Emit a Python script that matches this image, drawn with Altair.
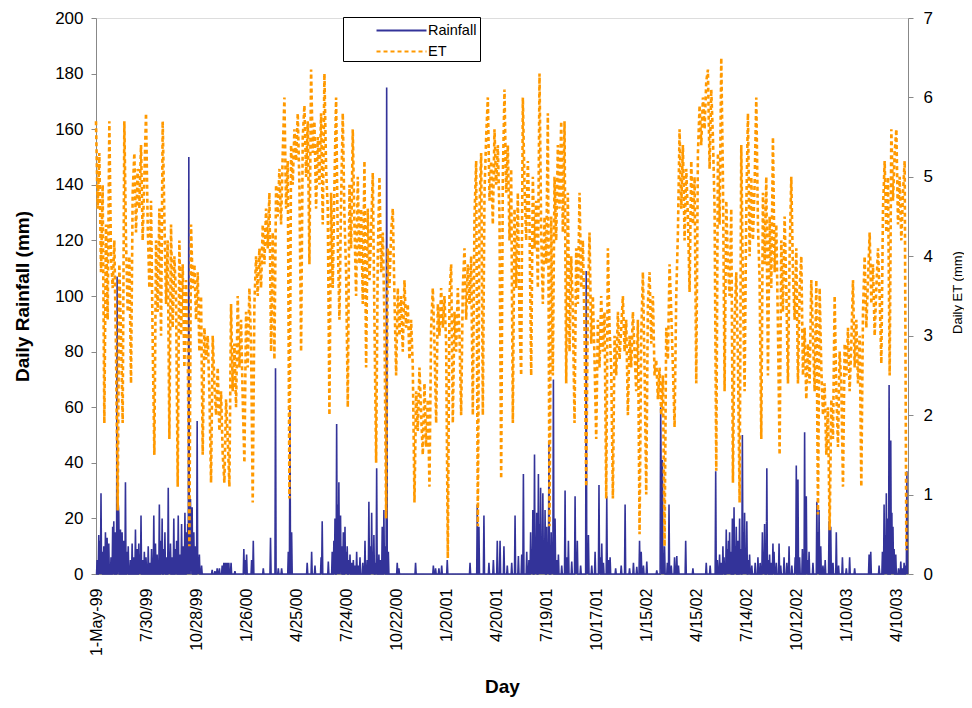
import altair as alt
import pandas as pd

# ---------------- data ----------------
x_labels = ["1-May-99", "7/30/99", "10/28/99", "1/26/00", "4/25/00", "7/24/00",
            "10/22/00", "1/20/01", "4/20/01", "7/19/01", "10/17/01", "1/15/02",
            "4/15/02", "7/14/02", "10/12/02", "1/10/03", "4/10/03"]
x_tick_days = [0, 90, 180, 270, 360, 450, 540, 630, 720, 810, 900, 990,
               1080, 1170, 1260, 1350, 1440]
n_days = 1461  # 1-May-1999 .. 30-Apr-2003

# daily rainfall events (day index from 1-May-99, mm); all other days are 0
rain_days = [2, 5, 7, 9, 11, 14, 17, 20, 23, 27, 30, 32, 35, 38, 40, 41, 44, 47, 50, 53,
             56, 58, 62, 65, 68, 71, 74, 77, 79, 81, 84, 87, 90, 94, 97, 100, 104, 107, 110, 114,
             117, 119, 122, 124, 127, 130, 132, 134, 137, 140, 143, 145, 148, 151, 154, 157, 160, 163, 165, 167,
             169, 170, 172, 173, 176, 179, 182, 184, 186, 190, 209, 214, 218, 222, 227, 230, 233, 236, 239, 243,
             250, 266, 268, 271, 280, 283, 301, 314, 323, 328, 334, 346, 349, 352, 380, 388, 394, 405, 407, 418,
             425, 428, 430, 433, 435, 437, 439, 440, 442, 445, 448, 450, 452, 455, 457, 460, 463, 466, 469, 472,
             475, 480, 484, 488, 491, 494, 496, 498, 500, 503, 505, 509, 512, 515, 518, 520, 523, 526, 542, 545,
             575, 607, 611, 617, 622, 632, 673, 686, 689, 698, 707, 715, 722, 727, 734, 740, 748, 754, 760, 766,
             769, 775, 779, 782, 784, 786, 789, 791, 793, 796, 798, 800, 802, 804, 806, 808, 811, 813, 815, 819,
             821, 823, 826, 829, 832, 838, 844, 847, 850, 856, 862, 864, 866, 872, 882, 884, 886, 892, 898, 905,
             907, 910, 913, 919, 922, 925, 935, 945, 952, 960, 967, 973, 978, 981, 985, 991, 1009, 1016, 1017, 1019,
             1021, 1023, 1028, 1031, 1035, 1041, 1045, 1048, 1061, 1074, 1098, 1105, 1115, 1118, 1122, 1125, 1128, 1130, 1134, 1136,
             1138, 1140, 1142, 1145, 1148, 1150, 1152, 1155, 1158, 1160, 1163, 1165, 1167, 1169, 1171, 1174, 1176, 1180, 1186, 1191,
             1195, 1199, 1201, 1203, 1207, 1209, 1212, 1215, 1218, 1220, 1224, 1229, 1232, 1238, 1243, 1247, 1252, 1258, 1260, 1263,
             1266, 1271, 1275, 1278, 1280, 1283, 1290, 1297, 1299, 1301, 1304, 1308, 1312, 1319, 1322, 1326, 1332, 1336, 1343, 1350,
             1356, 1365, 1391, 1394, 1409, 1415, 1418, 1420, 1422, 1424, 1427, 1430, 1432, 1434, 1436, 1439, 1444, 1448, 1451, 1454,
             1457, 1459]
rain_mm = [5, 14, 12, 29, 8, 10, 15, 13, 11, 6, 17, 19, 15, 107, 25, 22, 16, 15, 12, 33,
           8, 10, 5, 11, 6, 16, 9, 11, 7, 21, 5, 8, 6, 10, 4, 9, 21, 11, 7, 25,
           12, 20, 9, 15, 6, 31, 8, 11, 6, 20, 9, 12, 21, 7, 18, 10, 22, 15, 18, 150,
           25, 27, 20, 24, 15, 10, 55, 6, 7, 3, 1.5, 1, 2, 2, 3, 4, 4, 4, 4, 4,
           1, 9, 5, 7, 5, 12, 2, 13, 74, 2, 2, 8, 59, 15, 4, 8, 3, 6, 19, 4.5,
           8, 12, 20, 54, 25, 33, 14, 21, 10, 15, 17, 8, 10, 5, 7, 4, 5, 3, 8, 3,
           6, 4, 12, 5, 26, 10, 22, 8, 14, 4, 38, 7, 5, 17, 23, 10, 175, 8, 4, 2,
           4, 3, 2, 2, 3, 5, 4, 25, 17, 21, 4, 5, 12, 12, 10, 3, 4, 21, 6.5, 7,
           36, 8, 5, 15, 9, 23, 43, 12, 22, 36, 18, 31, 12, 29, 10, 23, 17, 8, 48, 15,
           6, 70, 20, 5, 7, 3, 30, 6, 12, 4.5, 28, 8, 12, 3, 109, 6, 14, 3, 8, 32,
           6, 11, 4, 28, 5, 6, 2, 3, 25, 2, 4, 2.6, 12, 8, 3, 4.5, 1.3, 60, 30, 41,
           6, 10, 4, 25, 3, 6, 6.5, 3, 12, 2, 4, 3, 37, 5, 7, 4, 10, 6, 16, 9,
           12, 15, 8, 20, 24, 10, 17, 12, 20, 9, 50, 15, 22, 8, 19, 5, 7, 3, 4, 6,
           4, 15, 8, 18, 38, 5, 7, 4, 11, 8, 4, 11, 3, 6, 4, 10, 3, 6, 39, 34,
           6, 9, 51, 28, 5, 8, 4, 26, 15, 23, 10, 3, 5, 19, 17, 4, 15, 3, 6, 2,
           6, 2, 7, 8, 3, 8, 25, 14, 29, 20, 68, 48, 22, 17, 9, 7, 2, 4.5, 2, 4,
           3, 37]

# daily ET (mm), one reading every 3 days from 1-May-99
et_step_days = 3
et_mm = [
    5.7, 4.6, 5.3, 3.8, 4.9, 1.9, 4.4, 3.2, 5.7, 4.0,
    3.6, 4.2, 2.8, 0.8, 3.9, 3.0, 1.9, 5.7, 4.2, 3.3,
    4.0, 2.4, 4.8, 5.3, 4.3, 5.1, 4.6, 5.4, 4.2, 5.0,
    5.8, 4.4, 3.6, 4.7, 2.9, 1.5, 4.2, 3.3, 4.6, 3.0,
    5.7, 4.5, 3.4, 4.2, 1.7, 4.4, 3.1, 4.0, 3.5, 1.1,
    4.2, 3.0, 3.9, 2.6, 3.7, 2.9, 0.35, 4.4, 3.6, 3.9,
    3.2, 3.8, 2.8, 3.5, 1.5, 3.1, 2.7, 3.0, 2.3, 1.15,
    3.0, 2.4, 2.0, 2.6, 1.8, 2.3, 1.5, 1.15, 2.2, 1.7,
    1.1, 3.4, 2.3, 2.9, 2.1, 3.5, 2.6, 3.2, 2.2, 1.4,
    3.3, 2.6, 3.6, 2.9, 0.9, 3.4, 4.0, 3.5, 4.1, 3.6,
    4.4, 3.9, 4.6, 4.1, 4.8, 2.8, 4.3, 2.7, 4.9, 4.5,
    5.1, 4.4, 5.3, 6.0, 4.6, 5.2, 0.95, 5.4, 4.9, 5.6,
    5.2, 5.8, 4.9, 2.8, 5.5, 5.9, 5.0, 5.7, 3.9, 6.35,
    5.3, 5.7, 4.6, 5.5, 4.9, 5.8, 4.4, 6.3, 5.1, 4.6,
    2.0, 4.8, 3.6, 4.9, 6.0, 4.2, 3.2, 4.7, 5.8, 4.5,
    3.8, 2.1, 4.9, 4.1, 5.6, 4.4, 3.5, 5.0, 3.9, 4.6,
    3.4, 5.2, 2.6, 4.6, 3.7, 4.3, 5.05, 3.2, 1.4, 4.0,
    5.0, 3.8, 4.3, 3.2, 0.7, 4.1, 3.6, 4.3, 4.6, 3.5,
    2.5, 3.6, 3.0, 3.5, 2.8, 3.7, 3.1, 3.4, 2.7, 3.2,
    2.6, 0.9, 2.3, 1.8, 2.6, 2.0, 1.5, 2.4, 1.6, 2.2,
    1.1, 3.1, 3.6, 2.9, 1.9, 3.4, 3.0, 3.6, 3.1, 3.5,
    2.9, 0.2, 3.5, 3.9, 1.9, 3.3, 2.8, 3.6, 3.0, 2.0,
    3.6, 4.1, 3.2, 3.9, 3.4, 4.0, 2.0, 4.5, 5.2, 0.6,
    4.6, 5.3, 2.0, 4.8, 5.5, 6.0, 4.7, 5.2, 4.4, 5.6,
    4.9, 5.4, 4.5, 1.2, 5.0, 6.1, 4.8, 5.4, 4.2, 5.1,
    1.9, 4.6, 3.6, 4.8, 3.2, 2.5, 6.0, 4.9, 4.2, 5.2,
    4.4, 2.5, 5.0, 4.1, 4.7, 3.6, 6.3, 4.3, 3.4, 4.5,
    3.9, 5.8, 0.6, 4.5, 2.5, 5.0, 4.2, 5.4, 4.6, 5.7,
    4.3, 5.7, 2.4, 4.8, 2.8, 4.0, 3.3, 1.9, 4.1, 3.4,
    4.8, 3.6, 4.2, 3.1, 1.1, 3.4, 4.3, 2.9, 3.5, 2.7,
    1.7, 3.2, 2.6, 3.5, 2.8, 3.3, 0.95, 4.1, 3.1, 2.6,
    0.95, 3.0, 2.5, 3.3, 2.7, 3.1, 3.5, 2.8, 3.2, 2.0,
    3.0, 2.6, 3.3, 2.8, 2.3, 3.2, 0.5, 3.0, 3.8, 2.6,
    1.0, 3.4, 3.8, 2.9, 3.5, 2.5, 2.7, 2.2, 2.6, 2.0,
    2.5, 0.35, 3.1, 2.7, 3.9, 3.3, 2.6, 1.85, 3.5, 4.3,
    5.6, 4.6, 5.4, 4.2, 5.1, 4.5, 3.55, 5.2, 4.4, 5.0,
    2.4, 5.3, 5.9, 5.4, 6.0, 5.6, 6.2, 6.35, 5.1, 6.1,
    5.5, 4.6, 1.3, 5.3, 4.4, 6.5, 5.0, 2.3, 4.7, 3.9,
    3.5, 4.6, 1.15, 3.2, 3.8, 2.7, 0.9, 5.4, 3.6, 2.3,
    4.6, 5.8, 4.0, 5.0, 4.2, 4.9, 6.0, 4.4, 3.7, 1.7,
    4.8, 3.9, 5.0, 2.5, 4.5, 3.6, 5.5, 3.8, 4.4, 3.1,
    1.5, 4.2, 3.3, 4.5, 3.6, 2.4, 4.0, 5.0, 3.8, 3.2,
    4.1, 2.4, 3.6, 4.0, 2.5, 3.1, 2.2, 2.9, 2.4, 3.7,
    3.0, 2.3, 3.7, 0.75, 3.6, 2.6, 2.0, 2.4, 1.5, 2.1,
    0.55, 2.2, 1.7, 3.5, 2.3, 1.6, 2.8, 2.4, 1.1, 2.9,
    2.5, 3.1, 2.3, 2.9, 3.7, 2.6, 3.2, 2.4, 3.0, 1.1,
    3.3, 4.0, 3.1, 3.7, 4.3, 3.4, 3.9, 3.0, 3.6, 4.1,
    3.5, 2.65, 4.6, 5.2, 4.3, 5.0, 2.5, 5.6, 4.7, 5.3,
    5.6, 4.4, 5.0, 4.2, 4.8, 5.2, 0.3,
]

series_names = ["Rainfall", "ET"]
series_colors = ["#333399", "#FF9900"]

# ---------------- tables ----------------
rain_full = [0.0] * n_days
for d, v in zip(rain_days, rain_mm):
    rain_full[d] = v
rain_df = pd.DataFrame({"day": list(range(n_days)), "value": rain_full, "series": "Rainfall"})
et_df = pd.DataFrame({"day": [i * et_step_days for i in range(len(et_mm))],
                      "value": et_mm, "series": "ET"})

FONT = "Arial, Liberation Sans, sans-serif"
label_expr = "[" + ",".join("'" + s + "'" for s in x_labels) + "][round(datum.value/90)]"

x_enc = alt.X("day:Q",
              scale=alt.Scale(domain=[0, n_days], nice=False, zero=False),
              axis=alt.Axis(values=x_tick_days, labelExpr=label_expr, labelAngle=-90,
                            labelFontSize=16, labelPadding=14, ticks=False,
                            labelOverlap=False, labelFlush=False, grid=False,
                            title="Day", titleFontSize=19, titleFontWeight="bold",
                            titleX=406, titleY=112, titleBaseline="middle"))

legend_kw = dict(title=None, orient="none", legendX=247, legendY=-1,
                 symbolType="M-2.63,0H2.63", symbolSize=361,
                 symbolStrokeWidth=1.8, labelFontSize=14.5,
                 labelFont=FONT, strokeColor="black",
                 fillColor="white", padding=3, rowPadding=4,
                 labelOffset=16, symbolOffset=45)

color_enc = alt.Color("series:N",
                      scale=alt.Scale(domain=series_names, range=series_colors),
                      legend=alt.Legend(**legend_kw))
dash_enc = alt.StrokeDash("series:N",
                          scale=alt.Scale(domain=series_names, range=[[1, 0], [4, 3]]),
                          legend=alt.Legend(**legend_kw))

rain = alt.Chart(rain_df).mark_line(strokeWidth=1.6, interpolate="linear").encode(
    x=x_enc,
    y=alt.Y("value:Q", scale=alt.Scale(domain=[0, 200], nice=False),
            axis=alt.Axis(orient="left", values=list(range(0, 201, 20)),
                          title="Daily Rainfall (mm)", titleFontSize=19,
                          titleFontWeight="bold", titleAngle=-90, titleX=-74, titleY=278,
                          titleBaseline="middle", labelFontSize=17, tickSize=5,
                          labelPadding=8, grid=False)),
    color=color_enc,
    strokeDash=dash_enc,
)

et = alt.Chart(et_df).mark_line(strokeWidth=2.6, interpolate="linear").encode(
    x=x_enc,
    y=alt.Y("value:Q", scale=alt.Scale(domain=[0, 7], nice=False),
            axis=alt.Axis(orient="right", values=list(range(0, 8)),
                          title="Daily ET (mm)", titleFontSize=13,
                          titleFontWeight="normal", titleAngle=-90, titleX=49, titleY=274,
                          titleBaseline="middle", labelFontSize=17, tickSize=5,
                          labelPadding=10, grid=False)),
    color=color_enc,
    strokeDash=dash_enc,
)

chart = alt.layer(rain, et).resolve_scale(y="independent").properties(
    width=812, height=556,
    autosize=alt.AutoSizeParams(type="none"),
    padding={"left": 88, "top": 10, "right": 56, "bottom": 126},
).configure_view(stroke=None).configure_axis(
    domainColor="black", tickColor="black", labelColor="black", titleColor="black",
    labelFont=FONT, titleFont=FONT, domainWidth=1,
).configure(background="white")

chart.save("out.html", embed_options={"renderer": "svg", "actions": False})
